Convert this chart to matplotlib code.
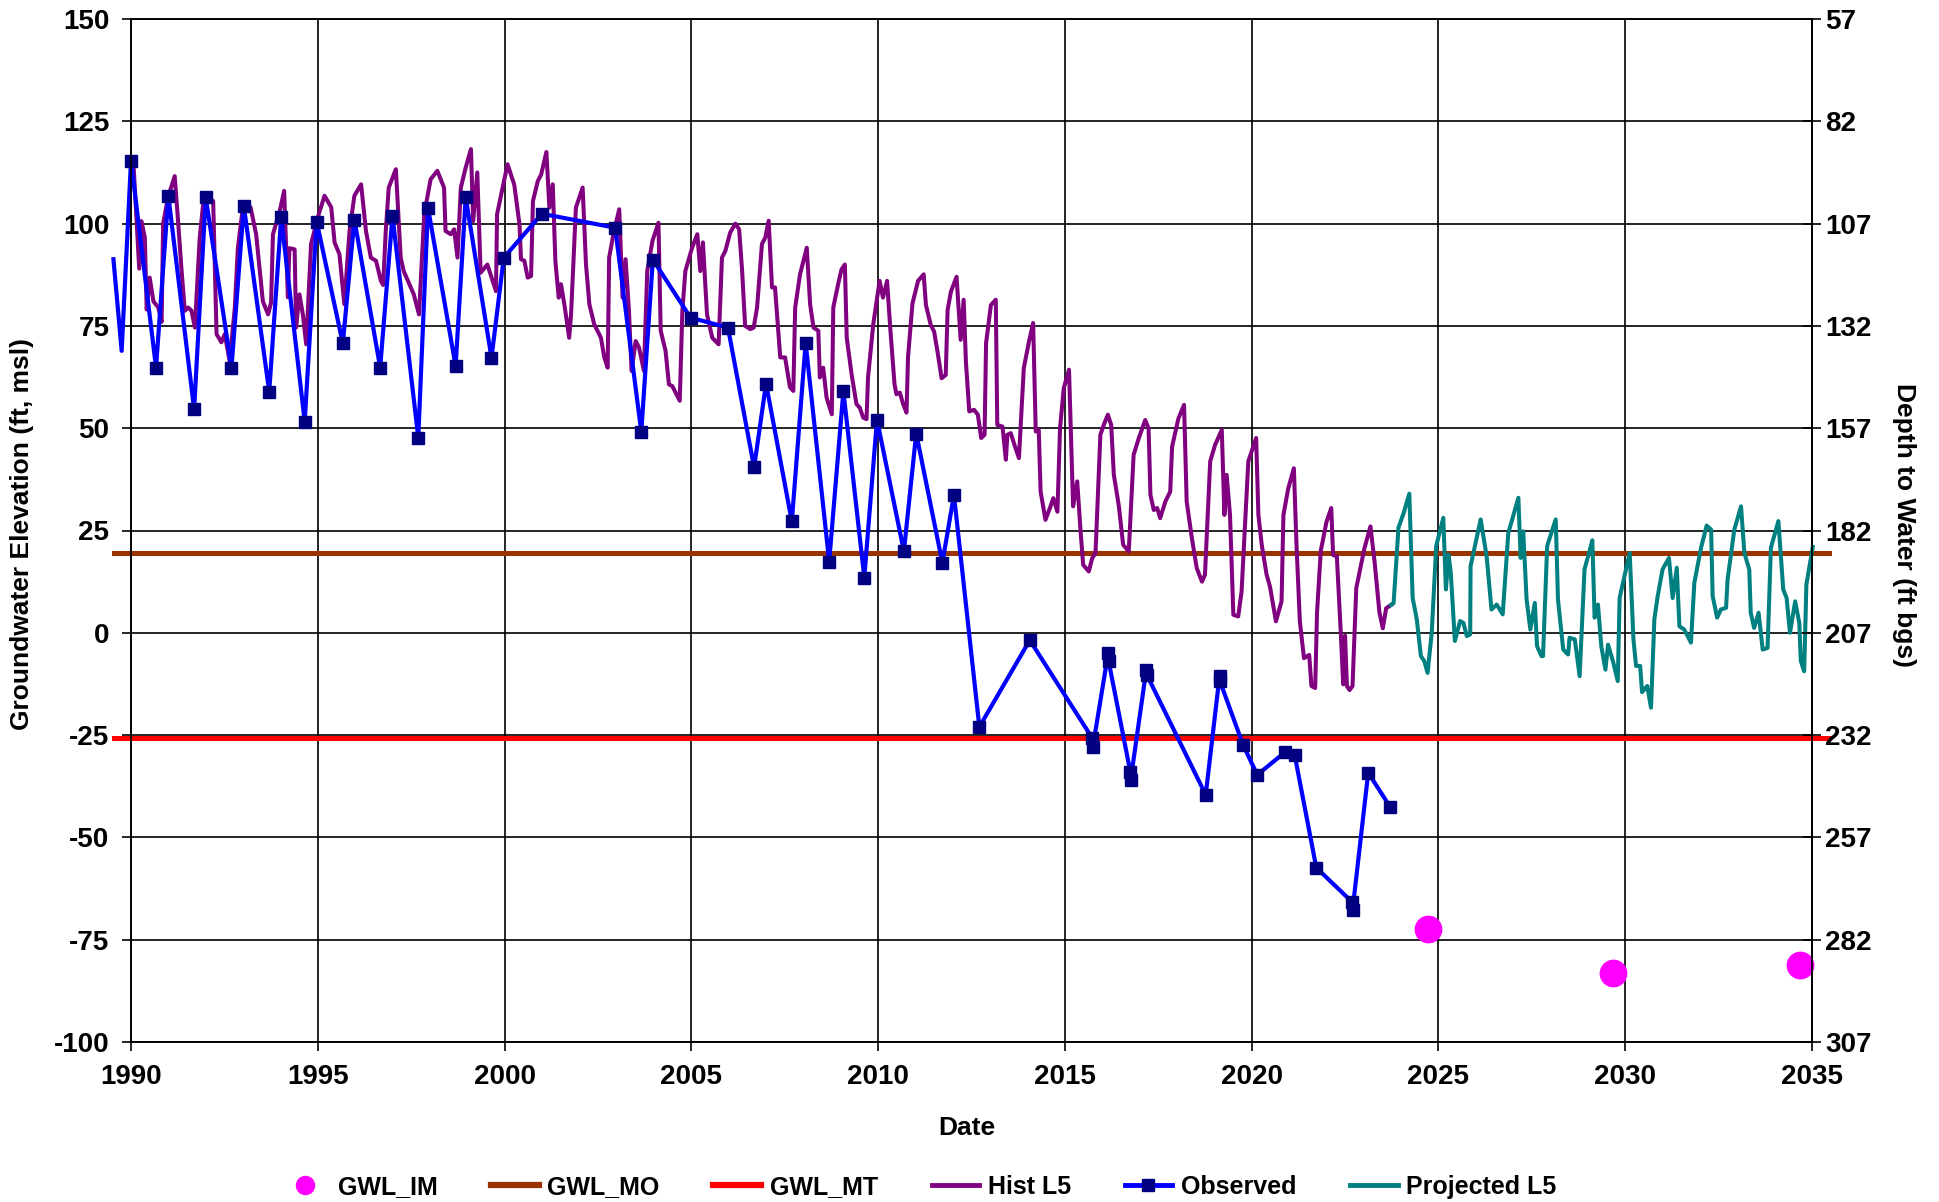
import matplotlib
matplotlib.use('Agg')
import matplotlib.pyplot as plt
from matplotlib.lines import Line2D

plt.rcParams['font.family'] = ['Liberation Sans', 'DejaVu Sans']
plt.rcParams['font.weight'] = 'bold'
plt.rcParams['axes.unicode_minus'] = False

# ---- data (decimal years, ft msl) ----
hist_year = [
    1990.06, 1990.15, 1990.22, 1990.28, 1990.37, 1990.42, 1990.50, 1990.60, 1990.73, 1990.82,
    1990.86, 1991.00, 1991.08, 1991.17, 1991.26, 1991.35, 1991.44, 1991.53, 1991.62, 1991.71,
    1991.84, 1991.93, 1992.02, 1992.20, 1992.29, 1992.42, 1992.51, 1992.64, 1992.78, 1992.86,
    1993.00, 1993.20, 1993.35, 1993.53, 1993.67, 1993.75, 1993.80, 1993.98, 1994.10, 1994.20,
    1994.24, 1994.38, 1994.42, 1994.51, 1994.60, 1994.69, 1994.82, 1995.00, 1995.18, 1995.36,
    1995.45, 1995.58, 1995.71, 1995.85, 1995.98, 1996.16, 1996.29, 1996.42, 1996.56, 1996.69,
    1996.75, 1996.82, 1996.90, 1997.09, 1997.22, 1997.30, 1997.45, 1997.57, 1997.71, 1997.85,
    1998.02, 1998.20, 1998.38, 1998.42, 1998.56, 1998.65, 1998.74, 1998.83, 1998.96, 1999.10,
    1999.16, 1999.27, 1999.36, 1999.54, 1999.77, 1999.80, 2000.08, 2000.26, 2000.40, 2000.44,
    2000.53, 2000.62, 2000.71, 2000.76, 2000.89, 2000.98, 2001.12, 2001.20, 2001.29, 2001.36,
    2001.45, 2001.51, 2001.60, 2001.73, 2001.78, 2001.91, 2002.09, 2002.18, 2002.27, 2002.40,
    2002.58, 2002.67, 2002.76, 2002.80, 2002.93, 2003.07, 2003.16, 2003.24, 2003.33, 2003.40,
    2003.51, 2003.60, 2003.73, 2003.82, 2003.96, 2004.12, 2004.18, 2004.31, 2004.40, 2004.49,
    2004.58, 2004.69, 2004.76, 2004.84, 2005.02, 2005.16, 2005.24, 2005.31, 2005.42, 2005.56,
    2005.73, 2005.82, 2005.91, 2006.04, 2006.18, 2006.28, 2006.36, 2006.44, 2006.58, 2006.67,
    2006.76, 2006.89, 2006.98, 2007.07, 2007.16, 2007.24, 2007.38, 2007.51, 2007.64, 2007.73,
    2007.78, 2007.91, 2008.09, 2008.18, 2008.27, 2008.40, 2008.44, 2008.53, 2008.62, 2008.76,
    2008.80, 2008.93, 2009.02, 2009.11, 2009.16, 2009.29, 2009.42, 2009.51, 2009.60, 2009.69,
    2009.73, 2009.87, 2010.04, 2010.13, 2010.24, 2010.33, 2010.44, 2010.49, 2010.58, 2010.67,
    2010.76, 2010.80, 2010.92, 2011.07, 2011.22, 2011.28, 2011.41, 2011.50, 2011.59, 2011.70,
    2011.81, 2011.86, 2011.95, 2012.10, 2012.21, 2012.29, 2012.35, 2012.44, 2012.57, 2012.67,
    2012.76, 2012.85, 2012.89, 2013.02, 2013.15, 2013.19, 2013.33, 2013.42, 2013.46, 2013.55,
    2013.68, 2013.77, 2013.90, 2014.04, 2014.15, 2014.22, 2014.30, 2014.35, 2014.48, 2014.60,
    2014.69, 2014.80, 2014.87, 2014.97, 2015.11, 2015.22, 2015.33, 2015.42, 2015.49, 2015.64,
    2015.73, 2015.82, 2015.95, 2016.04, 2016.15, 2016.24, 2016.31, 2016.44, 2016.56, 2016.71,
    2016.84, 2016.98, 2017.15, 2017.24, 2017.29, 2017.38, 2017.47, 2017.55, 2017.69, 2017.82,
    2017.87, 2018.04, 2018.19, 2018.26, 2018.40, 2018.53, 2018.67, 2018.75, 2018.89, 2019.02,
    2019.20, 2019.27, 2019.33, 2019.42, 2019.51, 2019.64, 2019.73, 2019.91, 2020.12, 2020.18,
    2020.27, 2020.40, 2020.49, 2020.65, 2020.80, 2020.85, 2020.98, 2021.13, 2021.20, 2021.29,
    2021.40, 2021.54, 2021.60, 2021.70, 2021.75, 2021.85, 2022.00, 2022.13, 2022.18, 2022.28,
    2022.38, 2022.45, 2022.50, 2022.55, 2022.62, 2022.70, 2022.80, 2023.02, 2023.18, 2023.29,
    2023.42, 2023.51, 2023.60, 2023.73,
]
hist_val = [
    115.7, 100.6, 89.0, 100.6, 96.6, 79.0, 86.8, 81.0, 79.5, 76.0,
    100.0, 106.8, 109.0, 111.6, 100.6, 89.0, 78.7, 79.5, 78.7, 74.6,
    96.6, 104.7, 106.8, 105.5, 73.0, 71.0, 73.0, 66.4, 79.5, 94.0,
    104.3, 104.0, 97.4, 81.0, 77.8, 80.7, 97.4, 103.0, 108.0, 82.0,
    94.0, 93.7, 74.6, 82.7, 77.8, 70.5, 95.0, 101.5, 106.8, 104.0,
    95.4, 92.5, 80.3, 98.2, 106.8, 109.6, 98.2, 91.7, 90.9, 86.0,
    85.0, 98.2, 108.8, 113.3, 91.7, 88.4, 85.2, 82.7, 77.8, 102.3,
    110.8, 112.9, 108.8, 98.2, 97.4, 98.6, 91.7, 108.8, 113.7, 118.2,
    100.6, 112.5, 88.0, 90.0, 83.5, 102.3, 114.5, 109.5, 99.8, 91.3,
    90.9, 86.8, 87.2, 105.5, 110.4, 112.0, 117.5, 103.9, 109.6, 90.9,
    81.9, 85.2, 80.3, 72.1, 77.8, 103.9, 108.8, 90.0, 80.3, 75.4,
    72.1, 67.3, 64.8, 91.7, 98.2, 103.5, 81.9, 91.3, 78.7, 64.0,
    71.3, 69.7, 64.0, 88.4, 95.8, 100.2, 73.8, 68.9, 60.7, 60.3,
    58.7, 56.7, 78.7, 88.4, 94.1, 97.4, 88.4, 95.4, 77.8, 72.1,
    70.5, 91.7, 93.3, 97.8, 100.0, 98.6, 88.4, 75.0, 74.2, 74.6,
    79.5, 95.0, 96.6, 100.7, 84.4, 84.4, 67.3, 67.3, 60.0, 59.1,
    79.5, 87.6, 94.1, 80.3, 74.6, 73.8, 62.4, 64.8, 57.5, 53.4,
    79.5, 85.2, 88.8, 90.0, 72.1, 63.2, 55.9, 55.0, 52.6, 52.2,
    62.4, 75.4, 86.0, 81.9, 86.0, 73.8, 60.7, 58.3, 58.7, 55.9,
    53.8, 67.3, 80.5, 86.0, 87.6, 80.1, 75.2, 73.6, 68.7, 62.2,
    63.0, 78.9, 83.4, 87.0, 71.6, 81.4, 66.3, 54.1, 54.5, 53.3,
    47.6, 48.4, 70.8, 80.1, 81.4, 50.8, 50.4, 42.3, 48.4, 48.8,
    45.1, 42.7, 64.7, 71.2, 75.7, 49.2, 49.6, 34.5, 27.6, 30.5,
    32.9, 29.6, 50.0, 59.8, 64.3, 30.9, 37.0, 24.8, 16.6, 15.0,
    18.2, 19.5, 48.4, 50.8, 53.3, 50.8, 38.6, 31.3, 21.5, 19.9,
    43.5, 47.6, 52.0, 50.0, 33.7, 30.0, 30.5, 28.0, 32.1, 34.5,
    45.5, 52.4, 55.7, 32.1, 23.1, 15.8, 12.5, 14.2, 41.9, 45.9,
    49.6, 28.8, 38.6, 28.8, 4.4, 4.0, 10.1, 41.9, 47.6, 28.8,
    21.5, 14.2, 11.3, 2.8, 7.7, 28.8, 35.3, 40.2, 21.5, 2.8,
    -6.2, -5.4, -13.0, -13.5, 5.0, 20.0, 27.0, 30.5, 19.0, 18.7,
    1.0, -12.6, -0.7, -13.0, -14.0, -13.0, 10.9, 20.7, 26.0, 17.4,
    5.0, 1.1, 6.0, 6.8,
]

proj_year = [
    2023.73, 2023.80, 2023.93, 2024.07, 2024.22, 2024.31, 2024.42, 2024.53, 2024.62, 2024.71,
    2024.82, 2024.94, 2025.13, 2025.20, 2025.27, 2025.33, 2025.44, 2025.58, 2025.67, 2025.76,
    2025.85, 2025.86, 2026.13, 2026.29, 2026.42, 2026.56, 2026.72, 2026.87, 2027.00, 2027.14,
    2027.20, 2027.27, 2027.36, 2027.46, 2027.58, 2027.64, 2027.76, 2027.80, 2027.91, 2028.14,
    2028.20, 2028.34, 2028.47, 2028.51, 2028.65, 2028.78, 2028.91, 2029.03, 2029.12, 2029.18,
    2029.27, 2029.36, 2029.47, 2029.54, 2029.67, 2029.80, 2029.85, 2030.00, 2030.12, 2030.22,
    2030.29, 2030.40, 2030.45, 2030.59, 2030.69, 2030.78, 2030.87, 2031.00, 2031.17, 2031.27,
    2031.38, 2031.45, 2031.58, 2031.76, 2031.85, 2032.03, 2032.18, 2032.30, 2032.34, 2032.46,
    2032.56, 2032.70, 2032.74, 2032.92, 2033.10, 2033.19, 2033.32, 2033.36, 2033.45, 2033.57,
    2033.68, 2033.81, 2033.90, 2034.10, 2034.23, 2034.32, 2034.41, 2034.55, 2034.66, 2034.70,
    2034.79, 2034.85, 2035.02,
]
proj_val = [
    6.8, 7.3, 25.7, 29.3, 34.0, 8.5, 3.3, -5.7, -6.9, -9.8,
    0.0, 21.2, 28.1, 10.6, 19.1, 14.7, -2.0, 2.9, 2.4, -0.8,
    -0.4, 16.3, 27.7, 18.7, 5.7, 6.9, 4.5, 24.4, 28.5, 33.0,
    18.3, 24.8, 8.1, 0.8, 7.3, -3.3, -5.7, -5.7, 21.2, 27.7,
    8.1, -4.1, -5.3, -1.2, -1.6, -10.6, 15.5, 19.5, 22.6, 3.7,
    6.9, -3.3, -9.0, -2.9, -6.9, -11.8, 8.5, 14.7, 19.5, -1.6,
    -8.1, -8.1, -14.5, -13.0, -18.3, 3.3, 9.0, 15.5, 18.3, 8.5,
    15.9, 1.6, 0.8, -2.4, 12.2, 20.8, 26.2, 25.2, 9.0, 3.7,
    5.7, 6.1, 13.0, 25.2, 30.9, 19.5, 15.5, 4.9, 1.2, 4.9,
    -4.1, -3.7, 20.8, 27.3, 10.6, 8.5, 0.0, 7.7, 2.4, -6.9,
    -9.4, 11.8, 21.0,
]

obs_year = [
    1989.53, 1989.75, 1990.00, 1990.67, 1991.00, 1991.69, 1992.00, 1992.69, 1993.02, 1993.70,
    1994.02, 1994.65, 1994.97, 1995.67, 1995.98, 1996.67, 1997.00, 1997.69, 1997.95, 1998.69,
    1998.96, 1999.65, 1999.98, 2001.00, 2002.96, 2003.66, 2003.97, 2004.98, 2005.98, 2006.68,
    2007.00, 2007.69, 2008.06, 2008.69, 2009.07, 2009.63, 2009.97, 2010.69, 2011.02, 2011.72,
    2012.03, 2012.71, 2014.06, 2015.73, 2015.75, 2016.16, 2016.17, 2016.75, 2016.76, 2017.18,
    2017.19, 2018.77, 2019.14, 2019.15, 2019.77, 2020.15, 2020.89, 2021.15, 2021.73, 2022.69,
    2022.70, 2023.12, 2023.71,
]
obs_val = [
    91.3, 68.9, 115.3, 64.8, 106.8, 54.6, 106.4, 64.8, 104.3, 58.9,
    101.5, 51.6, 100.5, 70.7, 101.0, 64.8, 101.9, 47.7, 103.9, 65.2,
    106.4, 67.2, 91.7, 102.4, 99.0, 49.1, 91.2, 77.0, 74.6, 40.4,
    60.9, 27.2, 70.8, 17.4, 59.0, 13.5, 52.1, 19.9, 48.7, 17.1,
    33.7, -23.0, -1.8, -25.7, -27.8, -4.9, -6.9, -33.9, -36.0, -9.0,
    -10.2, -39.6, -10.6, -11.8, -27.4, -34.7, -29.2, -29.8, -57.4, -65.8,
    -67.8, -34.2, -42.6,
]

im_year = [2024.72, 2029.67, 2034.67]
im_val = [-72.4, -83.2, -81.2]

mo_level = 19.4
mt_level = -25.6

year_ticks = [1990, 1995, 2000, 2005, 2010, 2015, 2020, 2025, 2030, 2035]
elev_ticks = [-100, -75, -50, -25, 0, 25, 50, 75, 100, 125, 150]
depth_ticks = [57, 82, 107, 132, 157, 182, 207, 232, 257, 282, 307]

# ---- style ----
C_IM = '#FF00FF'
C_MO = '#993300'
C_MT = '#FF0000'
C_HIST = '#800080'
C_OBS = '#0000FF'
C_OBS_MK = '#000080'
C_PROJ = '#008080'

fig = plt.figure(figsize=(19.39, 12.02), dpi=100)
ax = fig.add_axes([131 / 1939, 1 - 1042 / 1202, (1812 - 131) / 1939, (1042 - 19) / 1202])

line_x = [1989.55, 2035.45]
ax.plot(im_year, im_val, linestyle='none', marker='o', markersize=19,
        color=C_IM, zorder=6, clip_on=False)
ax.plot(line_x, [mo_level, mo_level], color=C_MO, linewidth=3.6, zorder=3, clip_on=False)
ax.plot(line_x, [mt_level, mt_level], color=C_MT, linewidth=3.6, zorder=3, clip_on=False)
ax.plot(hist_year, hist_val, color=C_HIST, linewidth=2.9, zorder=4)
# first two readings (before 1990) were drawn without markers
ax.plot(obs_year, obs_val, color=C_OBS, linewidth=3.0, marker='s', markersize=8,
        markevery=list(range(2, len(obs_year))),
        markerfacecolor=C_OBS_MK, markeredgecolor=C_OBS_MK, zorder=5, clip_on=False)
ax.plot(proj_year, proj_val, color=C_PROJ, linewidth=2.9, zorder=4, clip_on=False)

ax.set_xlim(1990, 2035)
ax.set_ylim(-100, 150)
ax.set_xticks(year_ticks)
ax.set_yticks(elev_ticks)
ax.grid(True, color='black', linewidth=1.2)
ax.set_axisbelow(True)
ax.tick_params(axis='both', direction='out', length=6.5, width=1.2, labelsize=20, pad=9)
for sp in ax.spines.values():
    sp.set_linewidth(1.2)

ax2 = ax.twinx()
ax2.set_ylim(307, 57)
ax2.set_yticks(depth_ticks)
ax2.tick_params(axis='y', direction='inout', length=13, width=1.2, labelsize=20, pad=3)
for sp in ax2.spines.values():
    sp.set_linewidth(1.2)

fig.text(22 / 1939, 1 - 534 / 1202, 'Groundwater Elevation (ft, msl)', rotation=90,
         ha='center', va='center', fontsize=19, fontweight='bold')
fig.text(1904 / 1939, 1 - 525 / 1202, 'Depth to Water (ft bgs)', rotation=270,
         ha='center', va='center', fontsize=19, fontweight='bold')
fig.text(967 / 1939, 1 - 1128 / 1202, 'Date', ha='center', va='center',
         fontsize=19, fontweight='bold')

handles = [
    Line2D([], [], linestyle='none', marker='o', markersize=13, color=C_IM),
    Line2D([], [], color=C_MO, linewidth=4.5),
    Line2D([], [], color=C_MT, linewidth=4.5),
    Line2D([], [], color=C_HIST, linewidth=3.5),
    Line2D([], [], color=C_OBS, linewidth=3.5, marker='s', markersize=8,
           markerfacecolor=C_OBS_MK, markeredgecolor=C_OBS_MK),
    Line2D([], [], color=C_PROJ, linewidth=3.5),
]
labels = ['GWL_IM', 'GWL_MO', 'GWL_MT', 'Hist L5', 'Observed', 'Projected L5']
fig.legend(handles, labels, loc='center', bbox_to_anchor=(919 / 1939, 1 - 1187 / 1202),
           ncol=6, frameon=False, fontsize=18, handlelength=1.9, handletextpad=0.35,
           columnspacing=2.15)

fig.savefig('out.png', dpi=100)
